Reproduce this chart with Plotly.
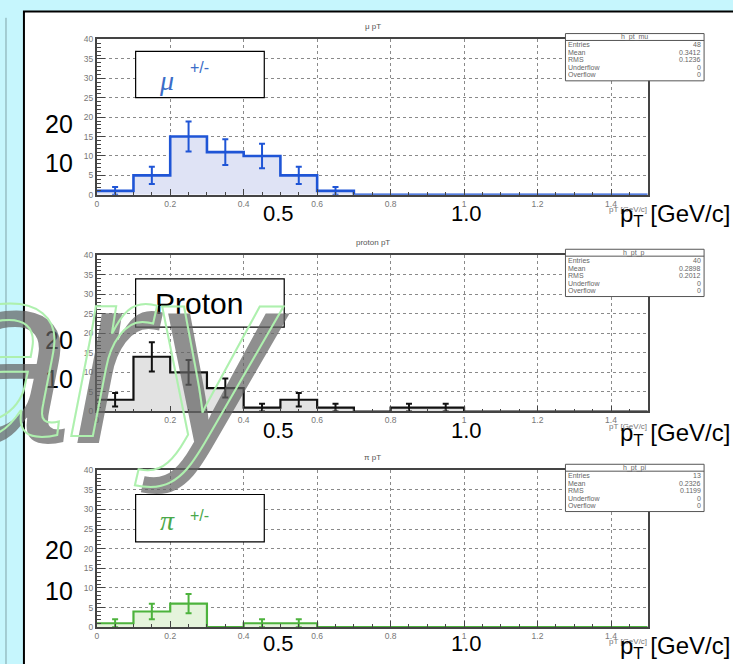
import math
import plotly.graph_objects as go

W, H = 733, 664

# ---- histogram data (15 bins of 0.1 GeV/c from 0 to 1.5) ----
bin_edges = [0.0, 0.1, 0.2, 0.3, 0.4, 0.5, 0.6, 0.7, 0.8, 0.9, 1.0, 1.1, 1.2, 1.3, 1.4, 1.5]
mu_counts = [1, 5, 15, 11, 10, 5, 1, 0, 0, 0, 0, 0, 0, 0, 0]
p_counts = [3, 14, 10, 6, 1, 3, 1, 0, 1, 1, 0, 0, 0, 0, 0]
pi_counts = [1, 4, 6, 0, 1, 1, 0, 0, 0, 0, 0, 0, 0, 0, 0]

# ---- statistics boxes ----
stat_names = ["Entries", "Mean", "RMS", "Underflow", "Overflow"]
mu_stats = ["48", "0.3412", "0.1236", "0", "0"]
p_stats = ["40", "0.2898", "0.2012", "0", "0"]
pi_stats = ["13", "0.2326", "0.1199", "0", "0"]
hist_names = ["h_pt_mu", "h_pt_p", "h_pt_pi"]
titles = ["\u03bc pT", "proton pT", "\u03c0 pT"]

x_ticks = [0, 0.2, 0.4, 0.6, 0.8, 1.0, 1.2, 1.4]
x_tick_text = ["0", "0.2", "0.4", "0.6", "0.8", "1", "1.2", "1.4"]
big_x_labels = ["0.5", "1.0"]
big_y_labels = ["20", "10"]


def px(x):
    return x / W


def py(y):
    return 1 - y / H


def ann(text, x, y, size, color="black", xanchor="center", yanchor="middle", **font):
    """Annotation placed in page pixels."""
    return dict(text=text, xref="paper", yref="paper", x=px(x), y=py(y),
                xanchor=xanchor, yanchor=yanchor, showarrow=False,
                borderpad=0, borderwidth=0,
                font=dict(size=size, color=color, **font))


# panel geometry in page pixels: (y of 40, y of 0)
panels = [(35.0, 192.7), (254.0, 412.7), (472.3, 631.7)]
X_LEFT, X_RIGHT = 95.0, 647.5

styles = [
    dict(line="#1f55d6", fill="#dfe3f5", width=2.6),
    dict(line="#111111", fill="#e2e2e2", width=2.2),
    dict(line="#4db33d", fill="#e5f4dc", width=2.2),
]
all_counts = [mu_counts, p_counts, pi_counts]
all_stats = [mu_stats, p_stats, pi_stats]

fig = go.Figure()
layout = dict(
    width=W, height=H, margin=dict(l=0, r=0, t=0, b=0),
    paper_bgcolor="#c6f6fd", plot_bgcolor="white", showlegend=False,
    font=dict(family="Liberation Sans"),
)

tickfont = dict(family="Liberation Sans", size=8.5, color="#777777")
shapes = []
annotations = []

# white slide panel and the thin rule in the margin
shapes.append(dict(type="rect", xref="paper", yref="paper", x0=px(22), x1=1.05, y0=-0.05, y1=py(6.5),
                   fillcolor="white", line=dict(color="black", width=2), layer="below"))
shapes.append(dict(type="line", xref="paper", yref="paper", x0=px(4), x1=px(4), y0=py(13), y1=-0.05,
                   line=dict(color="#7fa3a8", width=1), layer="below"))

centers = [(bin_edges[i] + bin_edges[i + 1]) / 2 for i in range(len(bin_edges) - 1)]

for k, (ytop, yzero) in enumerate(panels):
    n = k + 1
    xa = "x" if n == 1 else f"x{n}"
    ya = "y" if n == 1 else f"y{n}"
    st = styles[k]
    counts = all_counts[k]

    layout["xaxis" if n == 1 else f"xaxis{n}"] = dict(
        domain=[px(X_LEFT), px(X_RIGHT)], anchor=ya, range=[0, 1.5],
        tickmode="array", tickvals=x_ticks, ticktext=x_tick_text,
        ticks="inside", ticklen=6, tickcolor="#444", tickwidth=1,
        minor=dict(dtick=0.05, tick0=0, ticks="inside", ticklen=3, tickcolor="#444", showgrid=False),
        showgrid=True, gridcolor="#8a8a8a", griddash="dot", gridwidth=1,
        showline=True, mirror=True, linecolor="#444", linewidth=1.5,
        zeroline=False, tickfont=tickfont,
    )
    layout["yaxis" if n == 1 else f"yaxis{n}"] = dict(
        domain=[py(yzero), py(ytop)], anchor=xa, range=[0, 40],
        dtick=5, tick0=0, ticks="inside", ticklen=9, tickcolor="#444", tickwidth=1,
        minor=dict(dtick=1, tick0=0, ticks="inside", ticklen=5, tickcolor="#444", showgrid=False),
        showgrid=True, gridcolor="#8a8a8a", griddash="dot", gridwidth=1,
        showline=True, mirror=True, linecolor="#444", linewidth=1.5,
        zeroline=False, tickfont=tickfont,
    )

    # histogram outline with fill
    fig.add_trace(go.Scatter(
        x=bin_edges, y=counts + [counts[-1]], xaxis=xa, yaxis=ya,
        mode="lines", line=dict(shape="hv", color=st["line"], width=st["width"]),
        fill="tozeroy", fillcolor=st["fill"], hoverinfo="skip",
    ))
    # Poisson error bars on filled bins
    xs = [c for c, v in zip(centers, counts) if v > 0]
    ys = [v for v in counts if v > 0]
    fig.add_trace(go.Scatter(
        x=xs, y=ys, xaxis=xa, yaxis=ya, mode="markers",
        marker=dict(size=1, color=st["line"]),
        error_y=dict(type="data", array=[math.sqrt(v) for v in ys], color=st["line"],
                     thickness=2, width=3),
        hoverinfo="skip",
    ))

    # histogram title and axis title
    annotations.append(ann(titles[k], 372, ytop - 13, 8, "#555"))
    annotations.append(ann("pT [GeV/c]", 647, yzero + 15, 8, "#777", xanchor="right"))

    # statistics box
    btop = ytop - 6
    bbot = btop + 48
    shapes.append(dict(type="rect", xref="paper", yref="paper", x0=px(565), x1=px(704),
                       y0=py(bbot), y1=py(btop), fillcolor="white",
                       line=dict(color="#555", width=1), layer="above"))
    shapes.append(dict(type="line", xref="paper", yref="paper", x0=px(565), x1=px(704),
                       y0=py(btop + 7), y1=py(btop + 7), line=dict(color="#555", width=1), layer="above"))
    annotations.append(ann(hist_names[k], 634, btop + 3.5, 7, "#666"))
    for r, (name, val) in enumerate(zip(stat_names, all_stats[k])):
        yy = btop + 11.5 + r * 7.6
        annotations.append(ann(name, 568, yy, 7, "#666", xanchor="left"))
        annotations.append(ann(val, 701, yy, 7, "#666", xanchor="right"))

# large labels on the slide
big_rows = [(121, 160, 212, 214), (340, 380, 432, 436), (553, 595, 648, 652)]
for (y20, y10, yx, yp) in big_rows:
    for lab, yy in zip(big_y_labels, [y20, y10]):
        annotations.append(ann(lab, 57, yy, 25))
    for lab, xx in zip(big_x_labels, [277, 466]):
        annotations.append(ann(lab, xx, yx, 22))
    annotations.append(ann("p<sub>T</sub> [GeV/c]", 730, yp, 24, xanchor="right"))

# particle label boxes
label_boxes = [(134, 47, 263, 94), (134, 278, 283, 327), (134, 497, 263, 545)]
for (x0, y0, x1, y1) in label_boxes:
    shapes.append(dict(type="rect", xref="paper", yref="paper", x0=px(x0), x1=px(x1), y0=py(y1), y1=py(y0),
                       fillcolor="white", line=dict(color="black", width=1.2), layer="above"))

annotations.append(ann("<i>\u03bc</i>", 165, 77, 28, "#3b6dc8", family="Liberation Serif"))
annotations.append(ann("+/-", 198, 63, 16, "#3b6dc8"))
annotations.append(ann("Proton", 198, 303, 30))
annotations.append(ann("<i>\u03c0</i>", 166, 523, 28, "#4aa84a", family="Liberation Serif"))
annotations.append(ann("+/-", 198, 518, 16, "#4aa84a"))

# watermark: grey shadow plus outlined lettering
wm_x, wm_y, wm_size = -71, 351, 245
annotations.append(ann("ary", wm_x + 6, wm_y + 7, wm_size, "rgba(100,100,100,0.72)",
                       xanchor="left", style="italic"))
outline_index = len(annotations)
annotations.append(ann("ary", wm_x, wm_y, wm_size, "#aef0ae", xanchor="left", style="italic"))

layout["shapes"] = shapes
layout["annotations"] = annotations
fig.update_layout(**layout)

outline_js = """
var gd = document.getElementById('{plot_id}');
function outline() {
  var t = gd.querySelector('g.annotation[data-index="%d"] text.annotation-text');
  if (t) { t.style.fill = 'none'; t.style.stroke = '#aef0ae'; t.style.strokeWidth = '2px'; }
}
outline();
gd.on('plotly_afterplot', outline);
""" % outline_index

fig.write_html("out.html", post_script=outline_js)
